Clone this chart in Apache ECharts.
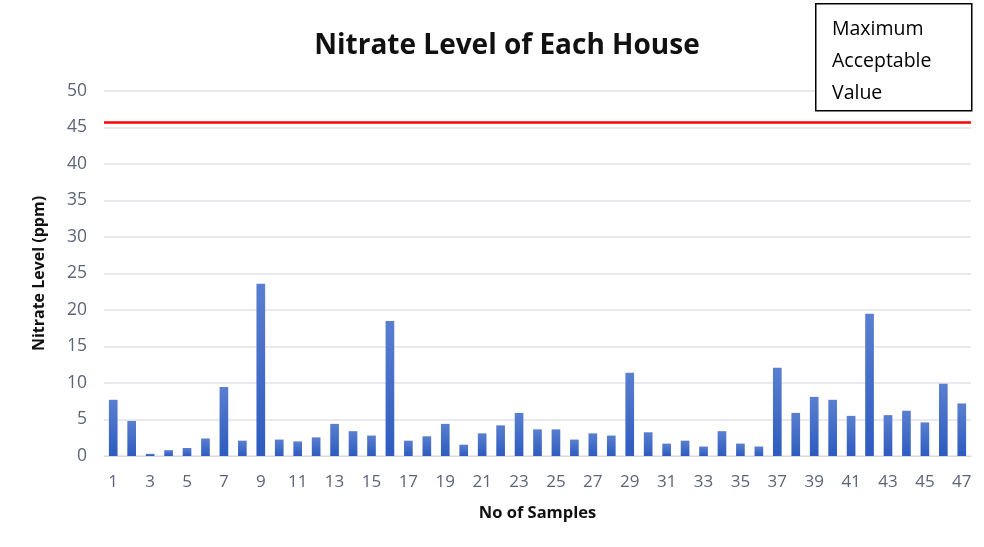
<!DOCTYPE html>
<html>
<head>
<meta charset="utf-8">
<script src="https://cdn.jsdelivr.net/npm/echarts@6/dist/echarts.min.js"></script>
<style>
    html, body { margin: 0; padding: 0; background: #fff; }
    #chart { width: 984px; height: 547px; }
</style>
</head>
<body>
<div id="chart"></div>
<script>
    // sample numbers 1..47
    let samples = []
    for (let i = 1; i <= 47; i++) samples.push(String(i))
    let nitrate = [7.7, 4.8, 0.3, 0.8, 1.1, 2.4, 9.45, 2.1, 23.6, 2.25,
        2.0, 2.55, 4.4, 3.4, 2.8, 18.5, 2.1, 2.7, 4.4, 1.55,
        3.1, 4.2, 5.9, 3.65, 3.65, 2.25, 3.1, 2.8, 11.4, 3.25,
        1.7, 2.1, 1.3, 3.4, 1.7, 1.3, 12.1, 5.9, 8.1, 7.7,
        5.5, 19.5, 5.6, 6.2, 4.6, 9.9, 7.2]
    let maxAcceptable = 45.7
    let yTicks = [0, 50, 5]  // min, max, interval

    let chart = echarts.init(document.getElementById('chart'))
    chart.setOption({
        animation: false,
        title: {
            text: 'Nitrate Level of Each House',
            left: 502,
            textAlign: 'center',
            top: 27,
            textStyle: {
                fontFamily: 'Open Sans',
                fontSize: 28,
                fontWeight: 'bold',
                color: '#111'
            }
        },
        grid: {
            left: 104,
            right: 13,
            top: 91,
            bottom: 91
        },
        xAxis: {
            type: 'category',
            data: samples,
            name: 'No of Samples',
            nameLocation: 'middle',
            nameGap: 49,
            nameTextStyle: {
                fontFamily: 'Open Sans',
                fontSize: 16.5,
                fontWeight: 'bold',
                color: '#111'
            },
            axisLine: { lineStyle: { color: '#d9d9d9', width: 1 } },
            axisTick: { show: false },
            axisLabel: {
                interval: 1,
                margin: 18,
                fontFamily: 'Open Sans',
                fontSize: 17,
                color: '#5b6577'
            }
        },
        yAxis: {
            type: 'value',
            min: yTicks[0],
            max: yTicks[1],
            interval: yTicks[2],
            name: 'Nitrate Level (ppm)',
            nameLocation: 'middle',
            nameGap: 57,
            nameTextStyle: {
                fontFamily: 'Open Sans',
                fontSize: 16,
                fontWeight: 'bold',
                color: '#111'
            },
            axisLine: { show: false },
            axisTick: { show: false },
            splitLine: { lineStyle: { color: '#e3e3e8', width: 1.5 } },
            axisLabel: {
                margin: 17,
                fontFamily: 'Open Sans',
                fontSize: 17.5,
                color: '#5b6577'
            }
        },
        series: [{
            type: 'bar',
            data: nitrate,
            barWidth: '47%',
            itemStyle: {
                color: new echarts.graphic.LinearGradient(0, 0, 0, 1, [
                    { offset: 0, color: '#5a7fd0' },
                    { offset: 1, color: '#2d5bbf' }
                ])
            },
            markLine: {
                silent: true,
                symbol: 'none',
                label: { show: false },
                lineStyle: { color: '#ff0000', width: 2.5, type: 'solid' },
                data: [{ yAxis: maxAcceptable }]
            }
        }],
        graphic: [{
            type: 'rect',
            left: 815,
            top: 3,
            shape: { width: 156, height: 107 },
            style: { fill: '#fff', stroke: '#000', lineWidth: 1.5 },
            z: 10
        }, {
            type: 'text',
            left: 832,
            top: 13,
            style: {
                text: 'Maximum\nAcceptable\nValue',
                fontFamily: 'Open Sans',
                fontSize: 19.5,
                lineHeight: 32,
                fill: '#000'
            },
            z: 11
        }]
    })
</script>
</body>
</html>
